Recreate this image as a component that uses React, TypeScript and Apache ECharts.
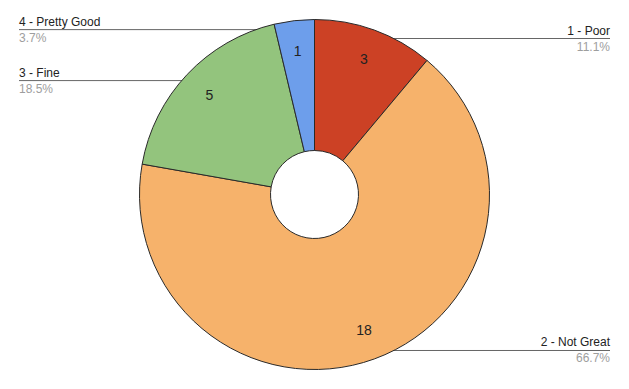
import React, { useEffect, useRef } from "react";
import * as echarts from "echarts";

const categories = ["1 - Poor", "2 - Not Great", "3 - Fine", "4 - Pretty Good"];
const values = [3, 18, 5, 1];
const colors = ["#cc4125", "#f6b26b", "#93c47d", "#6d9eeb"];

export default function App() {
  const ref = useRef<HTMLDivElement>(null);
  useEffect(() => {
    if (!ref.current) return;
    const chart = echarts.init(ref.current, null, { renderer: "svg" });
    const total = values.reduce((a, b) => a + b, 0);
    const data = categories.map((c, i) => ({ name: c, value: values[i] }));
    const center = ["50%", "50%"];
    const font = "Liberation Sans, Arial, sans-serif";
    chart.setOption({
      animation: false,
      backgroundColor: "#ffffff",
      color: colors,
      series: [
        {
          type: "pie",
          center,
          radius: [44, 175],
          startAngle: 90,
          silent: true,
          emphasis: { disabled: true },
          itemStyle: { borderColor: "#2a2a2a", borderWidth: 1 },
          label: { show: false },
          labelLine: { show: false },
          data,
        },
        {
          type: "pie",
          center,
          radius: [108, 175],
          startAngle: 90,
          silent: true,
          emphasis: { disabled: true },
          itemStyle: { color: "rgba(0,0,0,0)", borderWidth: 0 },
          label: {
            show: true,
            position: "inner",
            formatter: (p: any) => String(p.value),
            fontFamily: font,
            fontSize: 14,
            color: "#222222",
          },
          labelLine: { show: false },
          data,
        },
        {
          type: "pie",
          center,
          radius: [0, 166],
          startAngle: 90,
          silent: true,
          emphasis: { disabled: true },
          itemStyle: { color: "rgba(0,0,0,0)", borderWidth: 0 },
          label: {
            show: true,
            position: "outside",
            alignTo: "edge",
            edgeDistance: 19,
            distanceToLabelLine: 0,
            formatter: (p: any) =>
              `{n|${p.name}}\n{p|${((p.value / total) * 100).toFixed(1)}%}`,
            rich: {
              n: { fontFamily: font, fontSize: 12, color: "#222222", lineHeight: 16 },
              p: { fontFamily: font, fontSize: 12, color: "#9e9e9e", lineHeight: 16 },
            },
          },
          labelLine: {
            show: true,
            length: 0,
            length2: 10,
            lineStyle: { color: "#666666", width: 1 },
          },
          labelLayout: (p: any) => {
            const pts = p.labelLinePoints;
            if (!pts || pts.length < 2) return {};
            const r = p.labelRect;
            const last = pts[pts.length - 1];
            const right = last[0] >= pts[0][0];
            const farX = right ? r.x + r.width : r.x;
            const newPts = pts.map((q: number[]) => [q[0], q[1]]);
            newPts[newPts.length - 1] = [farX, last[1]];
            return { labelLinePoints: newPts };
          },
          data,
        },
      ],
    });
    return () => chart.dispose();
  }, []);
  return (
    <div
      ref={ref}
      style={{ position: "fixed", left: 0, top: 0, width: 629, height: 389 }}
    />
  );
}
